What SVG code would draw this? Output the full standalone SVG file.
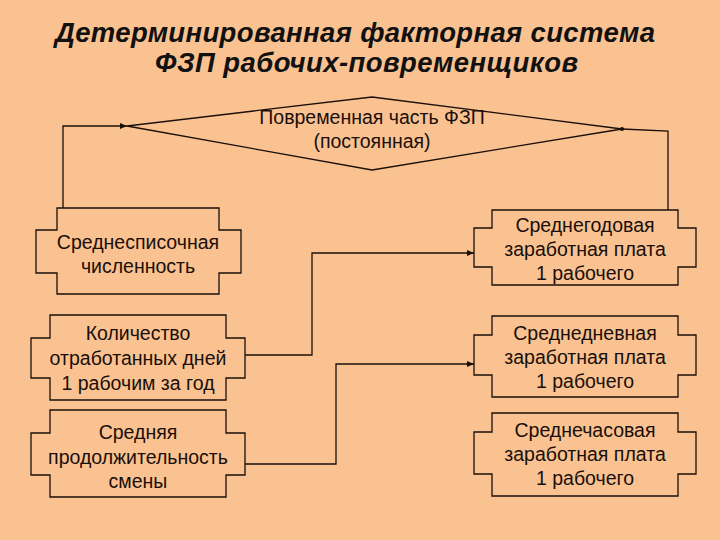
<svg xmlns="http://www.w3.org/2000/svg" width="720" height="540" viewBox="0 0 720 540">
<defs>
<style>
.s{fill:#FAC291;stroke:#1a0f0a;stroke-width:1.3}
.t{font-family:"Liberation Sans",Arial,sans-serif;font-size:19.5px;fill:#1a0f0a;text-anchor:middle}
.h{font-family:"Liberation Sans",Arial,sans-serif;font-size:27.5px;font-weight:bold;font-style:italic;fill:#111}
.c{fill:none;stroke:#1a0f0a;stroke-width:1.3}
</style>
<marker id="a" markerWidth="8" markerHeight="8" refX="7" refY="4" orient="auto" markerUnits="userSpaceOnUse"><path d="M0,1 L7,4 L0,7Z" fill="#1a0f0a"/></marker>
</defs>
<rect width="720" height="540" fill="#FAC291"/>
<text class="h" x="55" y="42" textLength="600">Детерминированная факторная система</text>
<text class="h" x="155" y="72" textLength="423">ФЗП  рабочих-повременщиков</text>
<g id="n0"><path class="s" d="M127,126 L372,97 L622,129 L372,170 Z"/>
<text class="t" x="372" y="124">Повременная часть ФЗП</text><text class="t" x="372" y="148">(постоянная)</text></g>
<g id="n1"><path class="s" d="M57,208 H219 V230 H241 V273 H219 V294 H57 V273 H36 V230 H57 Z"/>
<text class="t" x="138" y="249">Среднесписочная</text><text class="t" x="138" y="273">численность</text></g>
<g id="n2"><path class="s" d="M50,315 H226 V338 H245 V378 H226 V400 H50 V378 H31 V338 H50 Z"/>
<text class="t" x="138" y="340">Количество</text><text class="t" x="138" y="365">отработанных дней</text><text class="t" x="138" y="390">1 рабочим за год</text></g>
<g id="n3"><path class="s" d="M50,410 H226 V433 H245 V475 H226 V497 H50 V475 H31 V433 H50 Z"/>
<text class="t" x="138" y="439">Средняя</text><text class="t" x="138" y="464">продолжительность</text><text class="t" x="138" y="488">смены</text></g>
<g id="n4"><path class="s" d="M492,210 H678 V228 H696 V267 H678 V285 H492 V267 H474 V228 H492 Z"/>
<text class="t" x="585" y="232">Среднегодовая</text><text class="t" x="585" y="256">заработная плата</text><text class="t" x="585" y="280">1 рабочего</text></g>
<g id="n5"><path class="s" d="M492,316 H678 V335 H696 V375 H678 V397 H492 V375 H474 V335 H492 Z"/>
<text class="t" x="585" y="340">Среднедневная</text><text class="t" x="585" y="364">заработная плата</text><text class="t" x="585" y="388">1 рабочего</text></g>
<g id="n6"><path class="s" d="M492,413 H678 V432 H696 V474 H678 V496 H492 V474 H474 V432 H492 Z"/>
<text class="t" x="585" y="437">Среднечасовая</text><text class="t" x="585" y="461">заработная плата</text><text class="t" x="585" y="485">1 рабочего</text></g>
<g id="connectors">
<path class="c" d="M63,208 V126 H127" marker-end="url(#a)"/>
<path class="c" d="M668,210 V131 L622,129"/>
<circle cx="622" cy="129" r="2" fill="#1a0f0a"/>
<path class="c" d="M245,355 H312 V253 H474" marker-end="url(#a)"/>
<path class="c" d="M245,464 H336 V364 H474" marker-end="url(#a)"/>
</g>
</svg>
